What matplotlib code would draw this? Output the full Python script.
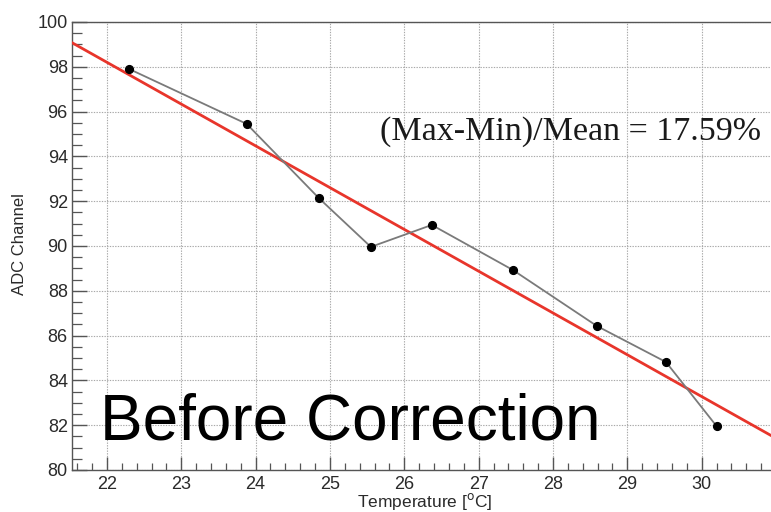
import numpy as np
import matplotlib
matplotlib.use("Agg")
import matplotlib.pyplot as plt
from matplotlib.ticker import MultipleLocator, FixedLocator

# ADC readout vs temperature, before correction
temp = [22.30, 23.88, 24.85, 25.55, 26.37, 27.46, 28.59, 29.52, 30.20]
adc = [97.90, 95.45, 92.14, 89.96, 90.94, 88.93, 86.43, 84.82, 81.96]
x_major = [22, 23, 24, 25, 26, 27, 28, 29, 30]
fit_slope = -1.865
fit_icpt = 139.23
spread_txt = "(Max-Min)/Mean = 17.59%"

fig = plt.figure(figsize=(7.71, 5.12), dpi=100)
ax = fig.add_axes([72 / 771, 42 / 512, 704 / 771, 448 / 512])
ax.set_xlim(21.53, 31.0)
ax.set_ylim(80, 100)

ax.xaxis.set_major_locator(FixedLocator(x_major))
ax.xaxis.set_minor_locator(MultipleLocator(0.2))
ax.yaxis.set_major_locator(MultipleLocator(2))
ax.yaxis.set_minor_locator(MultipleLocator(0.5))
ax.grid(True, which="major", color="#a8a8a8", linestyle=(0, (1.2, 1.2)), linewidth=0.8)
ax.set_axisbelow(True)

ax.tick_params(axis="x", which="major", direction="in", length=9.5, width=1.0,
               color="#555", pad=4, labelsize=13, labelcolor="#2a2a2a")
ax.tick_params(axis="x", which="minor", direction="in", length=5, width=0.9, color="#555")
ax.tick_params(axis="y", which="major", direction="in", length=11, width=1.0,
               color="#555", pad=3, labelsize=13, labelcolor="#2a2a2a")
ax.tick_params(axis="y", which="minor", direction="in", length=7, width=0.9, color="#555")
for lab in ax.get_xticklabels() + ax.get_yticklabels():
    lab.set_family("Liberation Sans")
for s in ax.spines.values():
    s.set_color("#555")
    s.set_linewidth(1.0)

xs = np.array(ax.get_xlim())
ax.plot(xs, fit_slope * xs + fit_icpt, color="#e8352b", linewidth=2.0, zorder=3)
ax.plot(temp, adc, color="#7a7a7a", linewidth=1.3, zorder=4)
ax.plot(temp, adc, "o", color="black", markersize=5.6, zorder=5)

ax.text(25.67, 94.73, spread_txt, family="Liberation Serif", fontsize=24.5,
        color="#1a1a1a", va="baseline", ha="left", zorder=6)
ax.text(21.91, 81.34, "Before Correction", family="Liberation Sans", fontsize=46,
        color="black", va="baseline", ha="left", zorder=6)

fig.text(20 / 771, 1 - 244 / 512, "ADC Channel", rotation=90, family="Liberation Sans",
         fontsize=12, color="#2a2a2a", ha="center", va="center")
fig.text(425 / 771, 1 - 502 / 512, r"Temperature [$^{\mathrm{o}}$C]", family="Liberation Sans",
         fontsize=12.5, color="#2a2a2a", ha="center", va="center")

fig.savefig("out.png", dpi=100, facecolor="white")
